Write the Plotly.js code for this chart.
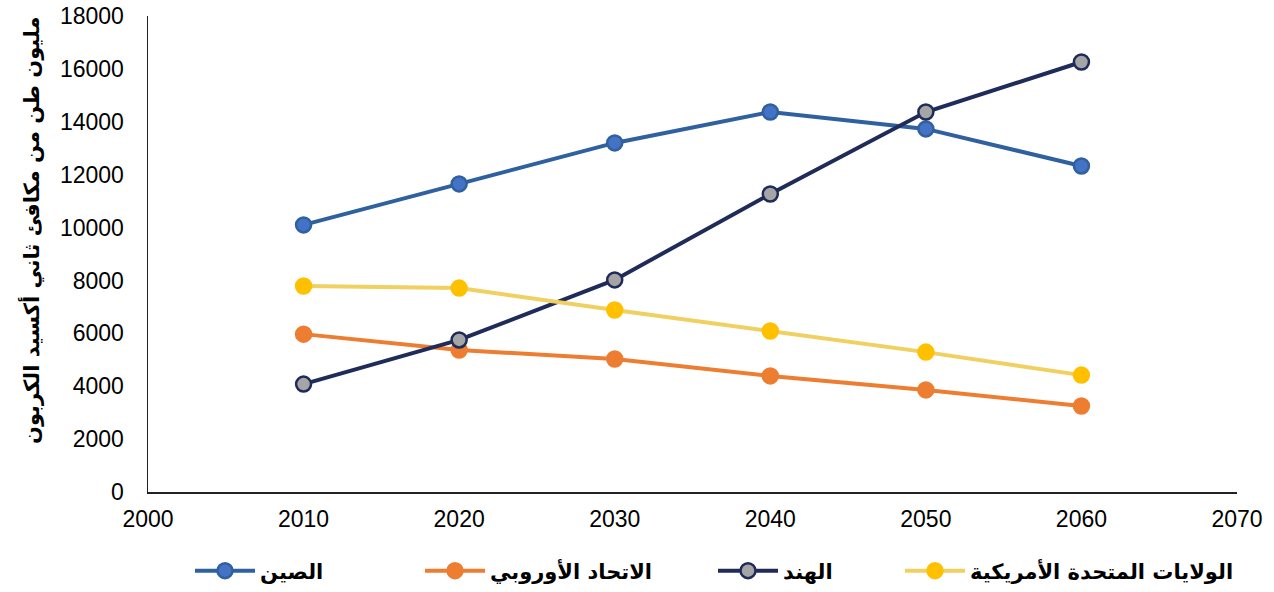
<!DOCTYPE html>
<html>
<head>
<meta charset="utf-8">
<script src="https://cdn.plot.ly/plotly-3.0.1.min.js"></script>
<style>html,body{margin:0;padding:0;background:#fff;}#chart{width:1274px;height:592px;}</style>
</head>
<body>
<div id="chart"></div>
<script>
const years = [2010, 2020, 2030, 2040, 2050, 2060];
const seriesNames = ["الصين", "الاتحاد الأوروبي", "الهند", "الولايات المتحدة الأمريكية"];
const china = [10100, 11650, 13200, 14370, 13730, 12330];
const eu = [5970, 5370, 5030, 4390, 3860, 3250];
const india = [4080, 5750, 8020, 11270, 14370, 16260];
const usa = [7790, 7710, 6880, 6090, 5290, 4420];
const xTicks = [2000, 2010, 2020, 2030, 2040, 2050, 2060, 2070];
const yTitle = "مليون طن من مكافئ ثاني أكسيد الكربون";

const styles = [
  {line: "#2f60a0", fill: "#4472c4", border: "#2f60a0"},
  {line: "#ed7d31", fill: "#ed7d31", border: "#ed7d31"},
  {line: "#1f2b58", fill: "#a5a5a5", border: "#1f2b58"},
  {line: "#efd061", fill: "#ffc000", border: "#ffc000"}
];
const values = [china, eu, india, usa];
const legendIds = ["legend", "legend2", "legend3", "legend4"];
// left edge of each legend entry, in pixels (plot area spans 148..1237)
const legendLeftPx = [190, 420, 713, 900];

const traces = values.map((v, i) => ({
  x: years, y: v, name: seriesNames[i], type: "scatter", mode: "lines+markers",
  legend: legendIds[i],
  line: {color: styles[i].line, width: 4},
  marker: {size: 15, color: styles[i].fill, line: {color: styles[i].border, width: 2.5}}
}));

// plot area: x 148..1237, y 16..492 ; paper spans y 16..592 (height 576)
const layout = {
  width: 1274, height: 592,
  margin: {l: 148, r: 37, t: 16, b: 0},
  paper_bgcolor: "#fff", plot_bgcolor: "#fff",
  font: {family: "Liberation Sans, Arial, sans-serif", size: 23, color: "#000"},
  xaxis: {range: [2000, 2070], tickvals: xTicks,
    showgrid: false, zeroline: false, showline: true, linecolor: "#222", linewidth: 1.5,
    ticks: "", ticklabelstandoff: 6, fixedrange: true},
  yaxis: {domain: [100 / 576, 1], range: [0, 18000], dtick: 2000, showgrid: false, zeroline: false, showline: true,
    linecolor: "#222", linewidth: 1.5, ticks: "", ticklabelstandoff: 18, tickformat: "d"},
  annotations: [{
    text: yTitle, textangle: -90, showarrow: false,
    xref: "paper", yref: "paper", x: (30 - 148) / 1089, y: (592 - 230) / 576,
    xanchor: "center", yanchor: "middle",
    font: {family: "DejaVu Sans, sans-serif", size: 21, weight: "bold", color: "#000"}
  }],
  showlegend: true
};
legendIds.forEach((id, i) => {
  layout[id] = {orientation: "h", x: (legendLeftPx[i] - 148) / 1089, xanchor: "left",
    y: 21 / 576, yanchor: "middle", bgcolor: "rgba(0,0,0,0)",
    font: {family: "DejaVu Sans, sans-serif", size: 21, color: "#000", weight: "bold"},
    itemwidth: 60};
});

Plotly.newPlot("chart", traces, layout, {displayModeBar: false, staticPlot: true});
</script>
</body>
</html>
